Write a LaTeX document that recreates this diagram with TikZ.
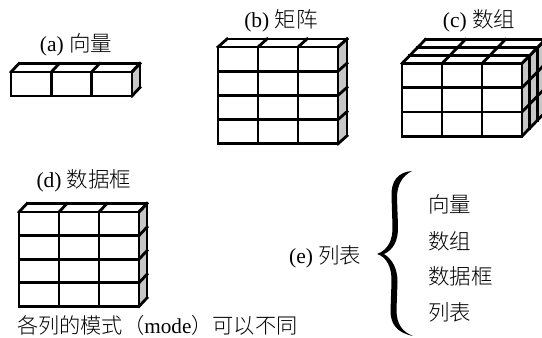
\documentclass[tikz,border=0pt]{standalone}
\usepackage{fontspec}
\setmainfont{Liberation Serif}
\newfontfamily\cjk{Noto Sans CJK SC}[UprightFont=* Light]
\tikzset{
  lbl/.style={inner sep=0pt,font=\fontsize{21.5}{24}\selectfont},
  notelbl/.style={inner sep=0pt,font=\fontsize{21.2}{24}\selectfont},
  cell/.style={line width=2.8pt,line join=miter,line cap=rect},
  side/.style={fill=black!22}
}
% #1 x #2 y, #3 cols #4 rows, #5 cell w, #6 cell h, #7 layers, #8 dx, #9 dy
\newcommand{\databox}[9]{%
  \pgfmathsetmacro{\cw}{#5}\pgfmathsetmacro{\ch}{#6}
  \pgfmathsetmacro{\xr}{#1+#3*\cw}\pgfmathsetmacro{\yb}{#2+#4*\ch}
  \pgfmathsetmacro{\dx}{#8}\pgfmathsetmacro{\dy}{#9}
  \pgfmathsetmacro{\tx}{#7*\dx}\pgfmathsetmacro{\ty}{#7*\dy}
  \fill[side] (\xr,#2) -- ++(\tx,-\ty) -- ++(0,#4*\ch) -- (\xr,\yb) -- cycle;
  \foreach \i in {0,...,#3}{\draw[cell] ({#1+\i*\cw},#2) -- ({#1+\i*\cw},\yb);}
  \foreach \j in {0,...,#4}{\draw[cell] (#1,{#2+\j*\ch}) -- (\xr,{#2+\j*\ch});}
  \foreach \i in {0,...,#3}{\draw[cell] ({#1+\i*\cw},#2) -- ++(\tx,-\ty);}
  \foreach \k in {1,...,#7}{\draw[cell] ({#1+\k*\dx},{#2-\k*\dy}) -- ({\xr+\k*\dx},{#2-\k*\dy});}
  \foreach \j in {0,...,#4}{\draw[cell] (\xr,{#2+\j*\ch}) -- ++(\tx,-\ty);}
  \foreach \k in {1,...,#7}{\draw[cell] ({\xr+\k*\dx},{#2-\k*\dy}) -- ({\xr+\k*\dx},{\yb-\k*\dy});}
}
\begin{document}
\begin{tikzpicture}[x=1pt,y=-1pt]
\path[use as bounding box] (0,0) rectangle (542,338);
\begin{scope}
\clip (0,0) rectangle (542,338);
\databox{11}{72}{3}{1}{40.3}{24}{1}{8}{8.5}
\databox{218}{47}{3}{4}{40}{24.2}{1}{9}{8}
\databox{402}{63.5}{3}{3}{40}{24.2}{3}{7.8}{8}
\databox{19}{212}{3}{4}{40}{23.6}{1}{8}{8.5}
\end{scope}
\node[lbl,anchor=center] (a) at (76,45) {(a) {\cjk 向量}};
\node[lbl,anchor=center] (b) at (281,21) {(b) {\cjk 矩阵}};
\node[lbl,anchor=center] (c) at (479,21) {(c) {\cjk 数组}};
\node[lbl,anchor=center] (d) at (84,181) {(d) {\cjk 数据框}};
\node[lbl,anchor=west] (e) at (289,257) {(e) {\cjk 列表}};
\node[lbl,anchor=west] (l1) at (428,204) {\cjk 向量};
\node[lbl,anchor=west] (l2) at (428,241) {\cjk 数组};
\node[lbl,anchor=west] (l3) at (428,276) {\cjk 数据框};
\node[lbl,anchor=west] (l4) at (428,312) {\cjk 列表};
\node[notelbl,anchor=west] (note) at (17,325) {{\cjk 各列的模式（}mode{\cjk ）可以不同}};
\fill (412,171) .. controls (398,172) and (391,181) .. (391.5,196)
  -- (392.5,226) .. controls (393,240) and (388,250) .. (377,254)
  .. controls (387,257) and (392,268) .. (391.5,282)
  -- (390.5,311) .. controls (390.5,325) and (398,333) .. (413,336)
  .. controls (403,332) and (396.5,325) .. (396.5,310)
  -- (397.5,282) .. controls (397.5,268) and (392,259) .. (384,254)
  .. controls (393,250) and (398.5,241) .. (398,226)
  -- (397,198) .. controls (397,185) and (402,176) .. (412,171) -- cycle;
\end{tikzpicture}
\end{document}
